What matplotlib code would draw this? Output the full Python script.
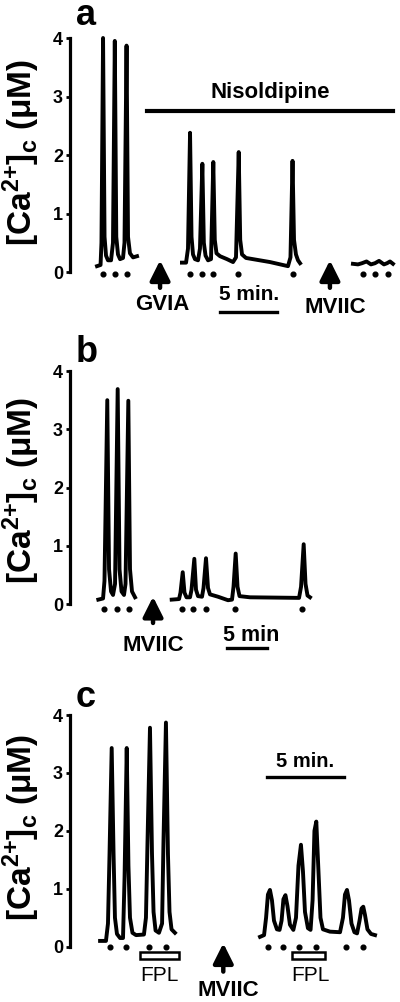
import matplotlib
matplotlib.use('Agg')
import matplotlib.pyplot as plt
from matplotlib.patches import Rectangle

plt.rcParams['font.family'] = ['Liberation Sans', 'DejaVu Sans']
plt.rcParams['mathtext.fontset'] = 'custom'
plt.rcParams['mathtext.rm'] = 'Liberation Sans:bold'
plt.rcParams['mathtext.default'] = 'rm'

W, H = 400, 1002

# ---- panel a (time in min, [Ca2+]c in uM) ----
a1_t = [2.37, 2.68, 2.76, 2.90, 3.03, 3.16, 3.33, 3.60, 3.77, 3.93, 4.06, 4.21,
        4.39, 4.65, 4.78, 4.96, 5.09, 5.26, 5.53, 5.88]
a1_c = [0.10, 0.12, 0.50, 4.00, 0.60, 0.28, 0.20, 0.20, 0.50, 3.95, 0.60, 0.30,
        0.22, 0.24, 0.50, 3.87, 0.60, 0.32, 0.25, 0.27]
a2_t = [9.82, 10.18, 10.35, 10.53, 10.66, 10.79, 10.96, 11.23, 11.40, 11.61, 11.74,
        11.89, 12.11, 12.37, 12.57, 12.70, 12.85, 13.16, 13.77, 14.30, 14.56, 14.80,
        14.93, 15.09, 15.44, 17.54, 19.12, 19.34, 19.52, 19.65, 19.82, 20.00, 20.18]
a2_c = [0.16, 0.16, 0.40, 2.38, 0.60, 0.30, 0.22, 0.20, 0.40, 1.85, 0.50,
        0.28, 0.20, 0.22, 1.88, 0.55, 0.32, 0.27, 0.22, 0.17, 0.25, 2.05,
        0.55, 0.30, 0.24, 0.17, 0.10, 0.25, 1.90, 0.55, 0.30, 0.20, 0.15]
a3_t = [24.82, 25.26, 25.61, 26.01, 26.40, 26.75, 27.11, 27.54, 27.81, 28.07, 28.33]
a3_c = [0.14, 0.13, 0.15, 0.18, 0.13, 0.15, 0.19, 0.13, 0.15, 0.18, 0.14]
a_dots = [2.90, 3.95, 4.96, 10.53, 11.58, 12.54, 14.78, 19.52, 25.68, 26.75, 27.87]

# ---- panel b ----
b1_t = [3.54, 4.13, 4.31, 4.66, 4.88, 5.13, 5.38, 5.63, 5.96, 6.19, 6.44, 6.75,
        6.94, 7.29, 7.50, 7.75, 8.13]
b1_c = [0.08, 0.10, 0.40, 3.50, 0.60, 0.22, 0.16, 0.35, 3.69, 0.60, 0.22, 0.16,
        0.35, 3.49, 0.60, 0.22, 0.12]
b2_t = [12.71, 13.63, 13.81, 14.09, 14.31, 14.56, 15.00, 15.19, 15.54, 15.75, 16.00,
        16.50, 16.69, 17.00, 17.25, 17.50, 18.50, 19.75, 20.25, 20.44, 20.71, 20.94,
        21.19, 22.50, 28.63, 28.88, 29.21, 29.44, 29.69, 30.00]
b2_c = [0.08, 0.09, 0.20, 0.55, 0.20, 0.12, 0.12, 0.25, 0.78, 0.25, 0.14,
        0.13, 0.28, 0.79, 0.28, 0.17, 0.13, 0.07, 0.08, 0.30, 0.87, 0.30,
        0.14, 0.12, 0.11, 0.30, 1.03, 0.35, 0.15, 0.12]
b_dots = [4.29, 5.84, 7.38, 13.96, 15.41, 16.96, 20.63, 29.04]

# ---- panel c ----
c1_t = [1.94, 2.32, 2.45, 2.55, 2.69, 2.81, 2.90, 3.03, 3.23, 3.42, 3.52, 3.66,
        3.77, 3.87, 4.03, 4.26, 4.77, 4.90, 5.00, 5.16, 5.29, 5.39, 5.52, 5.74,
        5.94, 6.03, 6.19, 6.32, 6.42, 6.55, 6.77]
c1_c = [0.10, 0.10, 0.40, 1.60, 3.43, 1.60, 0.50, 0.22, 0.15, 0.15, 1.20, 3.43,
        1.40, 0.50, 0.24, 0.20, 0.21, 0.50, 1.80, 3.78, 1.60, 0.60, 0.28, 0.24,
        0.40, 1.80, 3.87, 1.60, 0.60, 0.30, 0.24]
c2_t = [12.26, 12.52, 12.65, 12.77, 12.90, 13.03, 13.16, 13.35, 13.52, 13.65, 13.77,
        13.90, 14.03, 14.19, 14.41, 14.58, 14.74, 14.90, 15.03, 15.16, 15.35, 15.52,
        15.65, 15.77, 15.89, 16.03, 16.16, 16.32, 16.77, 17.42, 17.61, 17.74, 17.87,
        18.00, 18.16, 18.35, 18.52, 18.68, 18.81, 18.92, 19.03, 19.19, 19.42, 19.68]
c2_c = [0.17, 0.20, 0.50, 0.90, 0.98, 0.80, 0.45, 0.30, 0.29, 0.45, 0.82,
        0.89, 0.70, 0.38, 0.29, 0.50, 1.40, 1.76, 1.30, 0.60, 0.32, 0.29,
        0.80, 2.00, 2.16, 1.30, 0.50, 0.30, 0.26, 0.25, 0.50, 0.90, 0.98,
        0.80, 0.40, 0.25, 0.23, 0.45, 0.66, 0.69, 0.55, 0.30, 0.22, 0.20]
c_dots = [2.58, 3.61, 5.10, 6.17, 12.76, 13.76, 14.79, 15.87, 17.79, 18.88]

yticks = [0, 1, 2, 3, 4]
ylab = '[Ca$^{2{+}}$]$_{c}$ (μM)'

fig = plt.figure(figsize=(W / 100, H / 100), dpi=100)


def make_axes(y4, y0, xmax):
    ax = fig.add_axes([70 / W, 1 - y0 / H, 330 / W, (y0 - y4) / H])
    ax.set_xlim(0, xmax)
    ax.set_ylim(0, 4)
    for s in ['top', 'right', 'bottom']:
        ax.spines[s].set_visible(False)
    ax.spines['left'].set_linewidth(2.3)
    ax.set_xticks([])
    ax.set_yticks(yticks)
    ax.set_yticklabels([str(v) for v in yticks], fontsize=13, fontweight='bold')
    ax.tick_params(axis='y', direction='out', length=3, width=2, pad=2)
    ax.patch.set_visible(False)
    return ax


def trace(ax, t, c):
    ax.plot(t, c, color='k', lw=2.8, solid_joinstyle='round', clip_on=False)


def dots(ax, t, y):
    ax.plot(t, [y] * len(t), 'o', color='k', ms=3.4, clip_on=False)


def arrow(ax, x, tail, tip):
    ax.annotate('', xy=(x, tip), xytext=(x, tail), annotation_clip=False,
                arrowprops=dict(arrowstyle='-|>,head_length=1.2,head_width=0.6',
                                color='k', lw=3.2, shrinkA=0, shrinkB=0))


def label(ax, x, y, s, size=16, weight='bold'):
    ax.text(x, y, s, ha='center', va='center', fontsize=size, fontweight=weight,
            clip_on=False)


# panel a
axa = make_axes(38, 272, 330 / 11.4)
trace(axa, a1_t, a1_c)
trace(axa, a2_t, a2_c)
trace(axa, a3_t, a3_c)
dots(axa, a_dots, -0.03)
axa.plot([6.75, 28.33], [2.75, 2.75], color='k', lw=3, clip_on=False)
label(axa, 17.54, 3.06, 'Nisoldipine')
arrow(axa, 7.9, -0.27, 0.2)
label(axa, 8.1, -0.56, 'GVIA')
arrow(axa, 22.8, -0.27, 0.2)
label(axa, 23.25, -0.61, 'MVIIC')
axa.plot([13.16, 18.16], [-0.68, -0.68], color='k', lw=2.4, clip_on=False)
label(axa, 15.7, -0.39, '5 min.', size=15)

# panel b
axb = make_axes(371, 604.3, 330 / 8)
trace(axb, b1_t, b1_c)
trace(axb, b2_t, b2_c)
dots(axb, b_dots, -0.086)
arrow(axb, 10.38, -0.32, 0.13)
label(axb, 10.42, -0.70, 'MVIIC')
axb.plot([19.59, 24.59], [-0.755, -0.755], color='k', lw=2.4, clip_on=False)
label(axb, 22.71, -0.53, '5 min', size=15.5)

# panel c
axc = make_axes(715, 946.7, 330 / 15.5)
trace(axc, c1_t, c1_c)
trace(axc, c2_t, c2_c)
dots(axc, c_dots, 0.0)
for x0, x1 in [(4.52, 7.05), (14.30, 16.45)]:
    axc.add_patch(Rectangle((x0, -0.212), x1 - x0, 0.126, fill=False, lw=1.8,
                            ec='k', clip_on=False))
label(axc, 5.76, -0.49, 'FPL', size=15, weight='normal')
label(axc, 15.48, -0.49, 'FPL', size=15, weight='normal')
arrow(axc, 9.89, -0.43, 0.06)
label(axc, 10.19, -0.75, 'MVIIC')
axc.plot([12.69, 17.70], [2.93, 2.93], color='k', lw=2.4, clip_on=False)
label(axc, 15.16, 3.2, '5 min.', size=14.5)

# panel letters and y labels
for letter, base, center in [('a', 25, 153), ('b', 361.7, 491), ('c', 706.7, 828)]:
    fig.text(76 / W, 1 - base / H, letter, ha='left', va='baseline',
             fontsize=26, fontweight='bold')
    fig.text(21 / W, 1 - center / H, ylab, rotation=90, ha='center', va='center',
             fontsize=24, fontweight='bold')

fig.savefig('out.png', dpi=100)
